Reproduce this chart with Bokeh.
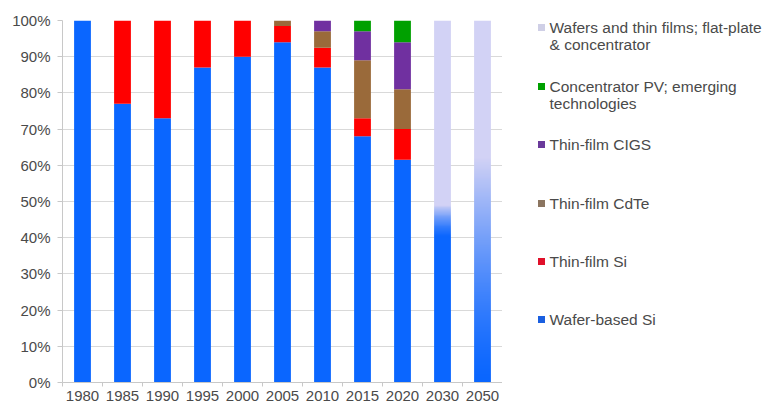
import numpy as np
from bokeh.plotting import figure
from bokeh.layouts import row
from bokeh.models import Range1d, FixedTicker, PrintfTickFormatter, ColumnDataSource
from bokeh.core.properties import value
from bokeh.embed import file_html
from bokeh.resources import INLINE

# ---- data -------------------------------------------------------------
years = ["1980", "1985", "1990", "1995", "2000", "2005", "2010", "2015", "2020", "2030", "2050"]
hist_years = years[:9]
wafer_si = [100, 77, 73, 87, 90, 94, 87, 68, 61.5]
thin_si = [0, 23, 27, 13, 10, 4.5, 5.5, 5, 8.5]
cdte = [0, 0, 0, 0, 0, 1.5, 4.5, 16, 11]
cigs = [0, 0, 0, 0, 0, 0, 3, 8, 13]
cpv = [0, 0, 0, 0, 0, 0, 0, 3, 6]

# projected years: wafer-based Si share fading into the mixed category
future_years = ["2030", "2050"]
future_wafer_solid = [40, 0]     # share drawn in solid blue
future_wafer_fade_end = [49, 62] # level where it has fully turned into the mixed colour

legend_lines = [
    ["Wafers and thin films; flat-plate", "& concentrator"],
    ["Concentrator PV; emerging", "technologies"],
    ["Thin-film CIGS"],
    ["Thin-film CdTe"],
    ["Thin-film Si"],
    ["Wafer-based Si"],
]

# ---- styling ----------------------------------------------------------
BLUE = (10, 102, 255)
LAV = (210, 210, 245)
colors = ["#0a66ff", "#ff0000", "#9a6a3a", "#7030a0", "#00a000"]
legend_colors = ["#cfcfe6", "#00a000", "#6a3a9a", "#8b7560", "#e0102a", "#1a5fe0"]
FONT = "Liberation Sans"
TXT = "#4a4a4a"

W, H = 767, 405
LEFT, TOP, BOTTOM = 62, 20, 23
PLOT_W = 502
LEG_W = W - PLOT_W
BAR_W = 0.42

p = figure(width=PLOT_W, height=H, output_backend="svg", toolbar_location=None,
           x_range=Range1d(-0.5, len(years) - 0.5), y_range=Range1d(0, 100),
           min_border_left=LEFT, min_border_right=0,
           min_border_top=TOP, min_border_bottom=BOTTOM)
p.outline_line_color = None
p.background_fill_color = "white"
p.border_fill_color = "white"

src = ColumnDataSource(dict(
    x=list(range(len(hist_years))),
    s0=wafer_si, s1=thin_si, s2=cdte, s3=cigs, s4=cpv,
))
p.vbar_stack(["s0", "s1", "s2", "s3", "s4"], x="x", width=BAR_W, color=colors,
             source=src, line_color=None)

# gradient bars for projections (eased blend from blue into lavender)
N = 400
levels = (np.arange(N) + 0.5) / N * 100.0
for yr, solid, fade_end in zip(future_years, future_wafer_solid, future_wafer_fade_end):
    t = np.clip((levels - solid) / (fade_end - solid), 0, 1) ** 1.4
    rgba = np.zeros((N, 1), dtype=np.uint32)
    view = rgba.view(dtype=np.uint8).reshape((N, 1, 4))
    for k in range(3):
        view[:, 0, k] = (BLUE[k] * (1 - t) + LAV[k] * t).astype(np.uint8)
    view[:, 0, 3] = 255
    xi = years.index(yr)
    p.image_rgba(image=[rgba], x=xi - BAR_W / 2, y=0, dw=BAR_W, dh=100)

# ---- axes and grid ----------------------------------------------------
p.xgrid.grid_line_color = None
p.ygrid.grid_line_color = "#d9d9d9"
p.ygrid.ticker = FixedTicker(ticks=list(range(0, 101, 10)))

p.yaxis.ticker = FixedTicker(ticks=list(range(0, 101, 10)))
p.yaxis.formatter = PrintfTickFormatter(format="%d%%")
p.yaxis.axis_line_color = "#c8c8c8"
p.yaxis.major_tick_line_color = "#c8c8c8"
p.yaxis.major_tick_out = 5
p.yaxis.major_tick_in = 0
p.yaxis.minor_tick_line_color = None
p.yaxis.major_label_standoff = 7
p.yaxis.major_label_text_font = FONT
p.yaxis.major_label_text_font_size = "15px"
p.yaxis.major_label_text_color = TXT

p.xaxis.ticker = FixedTicker(ticks=list(range(len(years))),
                             minor_ticks=[i - 0.5 for i in range(len(years) + 1)])
p.xaxis.major_label_overrides = {i: y for i, y in enumerate(years)}
p.xaxis.axis_line_color = "#c8c8c8"
p.xaxis.major_tick_line_color = None
p.xaxis.minor_tick_line_color = "#c8c8c8"
p.xaxis.minor_tick_out = 4
p.xaxis.minor_tick_in = 0
p.xaxis.major_label_standoff = 2
p.xaxis.major_label_text_font = FONT
p.xaxis.major_label_text_font_size = "15px"
p.xaxis.major_label_text_color = TXT

# ---- legend panel (pixel-like coordinates, origin top-left) -------------
# the row layout aligns this panel's frame with the chart frame (TOP..H-BOTTOM)
lg = figure(width=LEG_W, height=H, output_backend="svg", toolbar_location=None,
            x_range=Range1d(PLOT_W, W), y_range=Range1d(H - BOTTOM, TOP),
            min_border=0, min_border_top=TOP, min_border_bottom=BOTTOM)
lg.axis.visible = False
lg.grid.visible = False
lg.outline_line_color = None
lg.background_fill_color = "white"
lg.border_fill_color = "white"

row_tops = [27, 86, 144, 203, 261, 319]
line_gap = 17
mk = dict(x=[], y=[], c=[])
tx = dict(x=[], y=[], t=[])
for lines, c, top in zip(legend_lines, legend_colors, row_tops):
    mk["x"].append(541)
    mk["y"].append(top)
    mk["c"].append(c)
    for j, line in enumerate(lines):
        tx["x"].append(549)
        tx["y"].append(top + j * line_gap)
        tx["t"].append(line)

lg.scatter(x="x", y="y", color="c", marker="square", size=7, line_color=None,
           source=ColumnDataSource(mk))
lg.text(x="x", y="y", text="t", source=ColumnDataSource(tx),
        text_font=value(FONT), text_font_size="15.5px", text_color=TXT,
        text_align="left", text_baseline="middle")

layout = row(p, lg, spacing=0)
open("out.html", "w").write(file_html(layout, INLINE))
